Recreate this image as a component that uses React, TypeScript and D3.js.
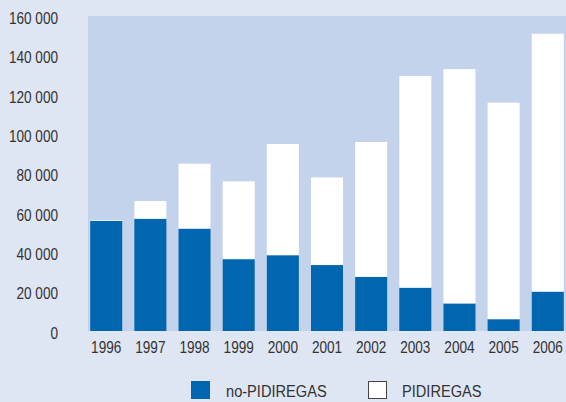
import React from "react";
import * as d3 from "d3";

const years = ["1996", "1997", "1998", "1999", "2000", "2001", "2002", "2003", "2004", "2005", "2006"];
const noPidiregas = [56000, 57000, 52000, 36500, 38500, 33500, 27500, 22000, 14000, 6000, 20000];
const pidiregas = [400, 9000, 33000, 39500, 56500, 44500, 68500, 107500, 119000, 110000, 131000];
const yTicks = [0, 20000, 40000, 60000, 80000, 100000, 120000, 140000, 160000];
const seriesNames = ["no-PIDIREGAS", "PIDIREGAS"];

const W = 566;
const H = 402;
const plot = { left: 88, right: 566, top: 16, bottom: 331 };

const OUTER_BG = "#dee5f3";
const PLOT_BG = "#c4d3ec";
const BLUE = "#0066af";
const TEXT = "#333333";
const FONT = "'Liberation Sans', Arial, sans-serif";

const fmt = (v: number) => d3.format(",")(v).replace(/,/g, " ");

export default function App() {
  const x = d3
    .scaleBand<string>()
    .domain(years)
    .range([plot.left, plot.right])
    .paddingInner(0.275)
    .paddingOuter(0.05);
  const y = d3.scaleLinear().domain([0, 160000]).range([plot.bottom, plot.top]);

  const rows = years.map((yr, i) => ({ year: yr, a: noPidiregas[i], b: pidiregas[i] }));
  const stacked = d3.stack<any>().keys(["a", "b"])(rows);
  const fills = [BLUE, "#ffffff"];

  return (
    <svg
      width={W}
      height={H}
      style={{ position: "absolute", left: 0, top: 0, display: "block" }}
    >
      <rect x={0} y={0} width={W} height={H} fill={OUTER_BG} />
      <rect
        x={plot.left}
        y={plot.top}
        width={plot.right - plot.left}
        height={plot.bottom - plot.top}
        fill={PLOT_BG}
      />
      {stacked.map((layer, li) => (
        <g key={li} fill={fills[li]}>
          {layer.map((d, i) => (
            <rect
              key={i}
              x={x(years[i])}
              y={y(d[1])}
              width={x.bandwidth()}
              height={Math.max(0, y(d[0]) - y(d[1]))}
            />
          ))}
        </g>
      ))}
      {/* y axis labels */}
      <g fill={TEXT} fontFamily={FONT} fontSize={16}>
        {yTicks.map((t) => (
          <text
            key={t}
            transform={`translate(58,${y(t) + 2}) scale(0.85,1)`}
            textAnchor="end"
            dy="0.36em"
          >
            {fmt(t)}
          </text>
        ))}
      </g>
      {/* x axis labels */}
      <g fill={TEXT} fontFamily={FONT} fontSize={16}>
        {years.map((yr) => (
          <text
            key={yr}
            transform={`translate(${(x(yr) as number) + x.bandwidth() / 2},347) scale(0.85,1)`}
            textAnchor="middle"
            dy="0.36em"
          >
            {yr}
          </text>
        ))}
      </g>
      {/* legend */}
      <g fontFamily={FONT} fontSize={17} fill={TEXT}>
        <rect x={191} y={381} width={19} height={18} fill={BLUE} />
        <text transform="translate(226,391) scale(0.86,1)" dy="0.36em">
          {seriesNames[0]}
        </text>
        <rect x={368.5} y={381.5} width={18} height={17} fill="#ffffff" stroke="#444" strokeWidth={1} />
        <text transform="translate(402,391) scale(0.86,1)" dy="0.36em">
          {seriesNames[1]}
        </text>
      </g>
    </svg>
  );
}
